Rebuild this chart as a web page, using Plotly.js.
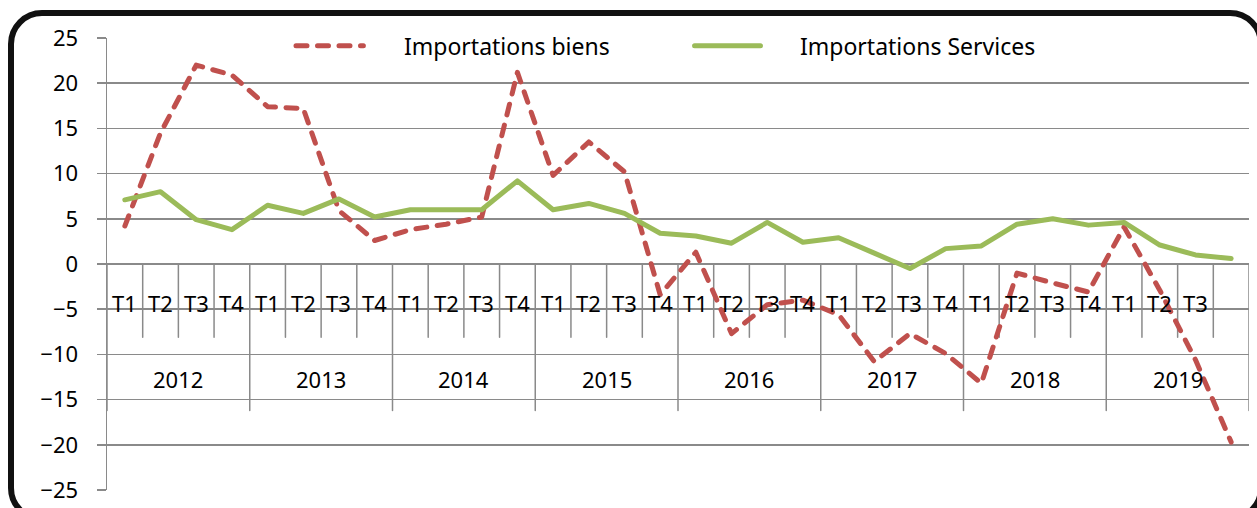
<!DOCTYPE html>
<html>
<head>
<meta charset="utf-8">
<script src="https://cdn.plot.ly/plotly-3.0.1.min.js"></script>
<style>
  html, body { margin: 0; padding: 0; background: #ffffff; }
  #chart { width: 1257px; height: 508px; position: absolute; left: 0; top: 0; }
  #frame { position: absolute; left: 8px; top: 10px; width: 1256px; height: 512px;
           border: 6px solid #111; border-radius: 34px; box-sizing: border-box; pointer-events: none; }
  #chart .scatterlayer .js-line { stroke-linecap: round; stroke-linejoin: round; }
  #chart .shapelayer path { stroke-linecap: round; }
</style>
</head>
<body>
<div id="chart"></div>
<div id="frame"></div>
<script>
// ---- data ----
const years = ["2012", "2013", "2014", "2015", "2016", "2017", "2018", "2019"];
const tickLabels = [
  "T1","T2","T3","T4", "T1","T2","T3","T4", "T1","T2","T3","T4", "T1","T2","T3","T4",
  "T1","T2","T3","T4", "T1","T2","T3","T4", "T1","T2","T3","T4", "T1","T2","T3",""
];
const importationsBiens = [
  4.2, 14.5, 22.0, 20.9, 17.4, 17.2, 5.9, 2.6,
  3.8, 4.4, 5.2, 21.2, 9.8, 13.5, 10.2, -3.4,
  1.3, -7.7, -4.5, -4.0, -5.6, -10.8, -7.7, -9.9,
  -13.2, -1.0, -2.1, -3.1, 4.1, -2.9, -10.6, -19.7
];
const importationsServices = [
  7.1, 8.0, 4.9, 3.8, 6.5, 5.6, 7.2, 5.2,
  6.0, 6.0, 6.0, 9.2, 6.0, 6.7, 5.6, 3.4,
  3.1, 2.3, 4.6, 2.4, 2.9, 1.2, -0.5, 1.7,
  2.0, 4.4, 5.0, 4.3, 4.6, 2.1, 1.0, 0.6
];
const seriesNames = ["Importations biens", "Importations Services"];
const seriesColors = ["#C0504D", "#9BBB59"];
const seriesDash = ["11px,10.5px", "solid"];

// ---- chart ----
const idx = tickLabels.map((_, i) => i);
const FONT = "Noto Sans, Liberation Sans, sans-serif";
const GRID = "#8a8a8a";

const traces = [importationsBiens, importationsServices].map((vals, s) => ({
  x: idx, y: vals, name: seriesNames[s], type: "scatter", mode: "lines",
  line: { color: seriesColors[s], width: 5, dash: seriesDash[s] }
}));

const shapes = [];
const annotations = [];
const quarterTickBottom = -8.1, yearTickBottom = -16.2;
const perYear = 4;
for (let i = 0; i <= tickLabels.length; i++) {
  const xb = i - 0.5;
  const isYear = (i % perYear === 0);
  shapes.push({ type: "line", xref: "x", yref: "y", layer: "below",
    x0: xb, x1: xb, y0: 0, y1: isYear ? yearTickBottom : quarterTickBottom,
    line: { color: GRID, width: 1.5 } });
}
tickLabels.forEach((t, i) => {
  if (!t) return;
  annotations.push({ x: i, y: -4.3, xref: "x", yref: "y", text: t, showarrow: false,
    xanchor: "center", yanchor: "middle", font: { family: FONT, size: 22, color: "#000" } });
});
years.forEach((yr, k) => {
  annotations.push({ x: k * perYear + 1.5, y: -12.7, xref: "x", yref: "y", text: yr, showarrow: false,
    xanchor: "center", yanchor: "middle", font: { family: FONT, size: 22, color: "#000" } });
});

// legend (drawn in paper coordinates, at the top of the plot area)
const legendY = 0.983;
const legendItems = [ { x0: 0.1655, x1: 0.2245, tx: 0.2583 }, { x0: 0.5145, x1: 0.5722, tx: 0.6051 } ];
legendItems.forEach((it, s) => {
  shapes.push({ type: "line", xref: "paper", yref: "paper", x0: it.x0, x1: it.x1, y0: legendY, y1: legendY,
    line: { color: seriesColors[s], width: 5, dash: seriesDash[s] } });
  annotations.push({ x: it.tx, y: legendY, xref: "paper", yref: "paper", text: seriesNames[s], showarrow: false,
    xanchor: "left", yanchor: "middle", font: { family: FONT, size: 23, color: "#000" } });
});

const layout = {
  width: 1257, height: 508,
  margin: { l: 107, r: 8, t: 38, b: 18, pad: 0 },
  paper_bgcolor: "#ffffff", plot_bgcolor: "#ffffff",
  font: { family: FONT, size: 22, color: "#000" },
  showlegend: false,
  xaxis: { range: [-0.5, tickLabels.length - 0.5], showgrid: false, zeroline: false,
    showline: false, showticklabels: false, ticks: "", fixedrange: true },
  yaxis: { range: [-25, 25], dtick: 5, tick0: 0, showgrid: true, gridcolor: GRID, gridwidth: 1.5,
    zeroline: false, showline: true, linecolor: GRID, linewidth: 1.5,
    ticks: "outside", ticklen: 9, tickwidth: 1.5, tickcolor: GRID,
    ticklabelstandoff: 14, tickfont: { family: FONT, size: 22, color: "#000" }, fixedrange: true },
  shapes: shapes,
  annotations: annotations
};

Plotly.newPlot("chart", traces, layout, { displayModeBar: false, staticPlot: true });
</script>
</body>
</html>
